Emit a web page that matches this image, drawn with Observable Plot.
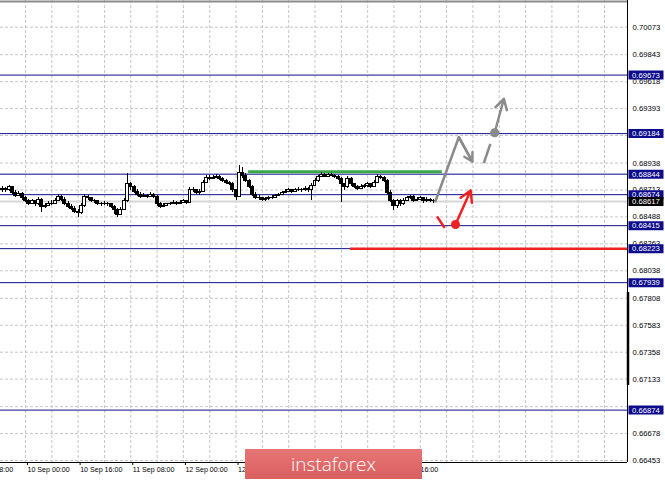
<!DOCTYPE html>
<html><head><meta charset="utf-8">
<script src="https://cdn.jsdelivr.net/npm/d3@7"></script>
<script src="https://cdn.jsdelivr.net/npm/@observablehq/plot@0.6"></script>
<style>
html,body{margin:0;padding:0;background:#fff;}
#wrap{position:relative;width:665px;height:480px;overflow:hidden;}
#logo{position:absolute;left:245px;top:449px;width:177px;height:30px;background:linear-gradient(#e77575,#d95f5f);color:#fff;font:300 19px "Open Sans",sans-serif;display:flex;align-items:center;justify-content:center;}
</style></head><body><div id="wrap"></div>
<script>
// ---- candle data (bar index: 0 = 10 Sep 00:00, H1 bars) ----
const barIndex = d3.range(-7, 125);
const opens = [0.68709,0.68725,0.68709,0.68734,0.68692,0.68667,0.68683,
0.68642,0.68625,0.68600,0.68617,0.68592,0.68633,0.68567,0.68583,
0.68592,0.68600,0.68625,0.68658,0.68633,0.68600,0.68575,0.68558,
0.68533,0.68517,0.68583,0.68658,0.68642,0.68625,0.68617,0.68600,
0.68592,0.68600,0.68592,0.68575,0.68542,0.68508,0.68550,0.68625,
0.68759,0.68734,0.68700,0.68675,0.68658,0.68667,0.68658,0.68675,
0.68658,0.68600,0.68575,0.68583,0.68592,0.68600,0.68608,0.68600,
0.68608,0.68617,0.68608,0.68717,0.68709,0.68692,0.68700,0.68775,
0.68817,0.68809,0.68817,0.68825,0.68809,0.68792,0.68775,0.68767,
0.68709,0.68658,0.68859,0.68834,0.68792,0.68742,0.68675,0.68650,
0.68642,0.68633,0.68637,0.68642,0.68650,0.68667,0.68675,0.68692,
0.68700,0.68709,0.68700,0.68709,0.68717,0.68709,0.68725,0.68717,
0.68750,0.68792,0.68825,0.68842,0.68825,0.68842,0.68834,0.68825,
0.68809,0.68759,0.68742,0.68809,0.68759,0.68742,0.68725,0.68742,
0.68750,0.68759,0.68742,0.68775,0.68825,0.68817,0.68792,0.68692,
0.68625,0.68583,0.68617,0.68592,0.68625,0.68642,0.68658,0.68625,
0.68633,0.68642,0.68617,0.68633,0.68625];
const highs = [0.68742,0.68734,0.68750,0.68742,0.68709,0.68700,0.68692,
0.68658,0.68633,0.68633,0.68625,0.68650,0.68642,0.68600,0.68617,
0.68625,0.68642,0.68675,0.68667,0.68650,0.68617,0.68592,0.68575,
0.68550,0.68600,0.68675,0.68667,0.68650,0.68633,0.68625,0.68608,
0.68617,0.68608,0.68600,0.68583,0.68558,0.68567,0.68642,0.68850,
0.68775,0.68750,0.68717,0.68692,0.68683,0.68675,0.68692,0.68683,
0.68667,0.68608,0.68600,0.68600,0.68608,0.68625,0.68617,0.68625,
0.68633,0.68625,0.68734,0.68734,0.68717,0.68717,0.68792,0.68834,
0.68834,0.68834,0.68842,0.68834,0.68817,0.68800,0.68784,0.68775,
0.68717,0.68917,0.68901,0.68850,0.68800,0.68750,0.68692,0.68667,
0.68650,0.68650,0.68658,0.68667,0.68675,0.68683,0.68700,0.68717,
0.68725,0.68717,0.68725,0.68734,0.68725,0.68742,0.68734,0.68767,
0.68809,0.68834,0.68859,0.68850,0.68850,0.68850,0.68842,0.68834,
0.68817,0.68767,0.68825,0.68817,0.68767,0.68750,0.68759,0.68759,
0.68775,0.68767,0.68792,0.68842,0.68834,0.68825,0.68800,0.68709,
0.68633,0.68633,0.68633,0.68642,0.68658,0.68667,0.68667,0.68650,
0.68658,0.68650,0.68650,0.68642,0.68633];
const lows = [0.68692,0.68692,0.68700,0.68675,0.68650,0.68658,0.68625,
0.68608,0.68583,0.68592,0.68575,0.68583,0.68525,0.68558,0.68575,
0.68583,0.68592,0.68617,0.68617,0.68583,0.68558,0.68542,0.68517,
0.68483,0.68508,0.68567,0.68625,0.68608,0.68600,0.68583,0.68575,
0.68583,0.68575,0.68558,0.68508,0.68483,0.68500,0.68542,0.68608,
0.68709,0.68683,0.68658,0.68642,0.68650,0.68642,0.68650,0.68642,
0.68575,0.68558,0.68567,0.68575,0.68583,0.68592,0.68583,0.68592,
0.68600,0.68592,0.68600,0.68692,0.68675,0.68667,0.68692,0.68767,
0.68792,0.68800,0.68809,0.68792,0.68775,0.68759,0.68750,0.68692,
0.68625,0.68650,0.68809,0.68775,0.68725,0.68658,0.68633,0.68625,
0.68617,0.68617,0.68625,0.68633,0.68642,0.68658,0.68667,0.68683,
0.68692,0.68683,0.68692,0.68700,0.68692,0.68700,0.68692,0.68625,
0.68742,0.68775,0.68817,0.68817,0.68817,0.68825,0.68809,0.68792,
0.68608,0.68709,0.68725,0.68742,0.68725,0.68709,0.68717,0.68725,
0.68734,0.68725,0.68734,0.68767,0.68800,0.68775,0.68675,0.68608,
0.68542,0.68558,0.68575,0.68583,0.68617,0.68633,0.68608,0.68617,
0.68625,0.68600,0.68608,0.68608,0.68600];
const closes = [0.68725,0.68709,0.68734,0.68692,0.68667,0.68683,0.68642,
0.68625,0.68600,0.68617,0.68592,0.68633,0.68567,0.68583,0.68592,
0.68600,0.68625,0.68658,0.68633,0.68600,0.68575,0.68558,0.68533,
0.68517,0.68583,0.68658,0.68642,0.68625,0.68617,0.68600,0.68592,
0.68600,0.68592,0.68575,0.68542,0.68508,0.68550,0.68625,0.68759,
0.68734,0.68700,0.68675,0.68658,0.68667,0.68658,0.68675,0.68658,
0.68600,0.68575,0.68583,0.68592,0.68600,0.68608,0.68600,0.68608,
0.68617,0.68608,0.68717,0.68709,0.68692,0.68700,0.68775,0.68817,
0.68809,0.68817,0.68825,0.68809,0.68792,0.68775,0.68767,0.68709,
0.68658,0.68859,0.68834,0.68792,0.68742,0.68675,0.68650,0.68642,
0.68633,0.68637,0.68642,0.68650,0.68667,0.68675,0.68692,0.68700,
0.68709,0.68700,0.68709,0.68717,0.68709,0.68725,0.68717,0.68750,
0.68792,0.68825,0.68842,0.68825,0.68842,0.68834,0.68825,0.68809,
0.68759,0.68742,0.68809,0.68759,0.68742,0.68725,0.68742,0.68750,
0.68759,0.68742,0.68775,0.68825,0.68817,0.68792,0.68692,0.68625,
0.68583,0.68617,0.68592,0.68625,0.68642,0.68658,0.68625,0.68633,
0.68642,0.68617,0.68633,0.68625,0.68617];

// ---- axes ----
const priceGrid = [0.70073,0.69843,0.69618,0.69393,0.69168,0.68938,0.68713,0.68488,0.68263,0.68038,0.67808,0.67583,0.67358,0.67133,0.66903,0.66678,0.66453];
const priceLabels = [0.70073,0.69843,0.69618,0.69393,0.68938,0.68713,0.68488,0.68263,0.68038,0.67808,0.67583,0.67358,0.67133,0.66678,0.66453];
const timeTickIndex = [-16, 0, 16, 32, 48, 64, 112];
const timeTickLabels = ["9 Sep 08:00","10 Sep 00:00","10 Sep 16:00","11 Sep 08:00","12 Sep 00:00","12 Sep 16:00","16 Sep 16:00"];
const gridIndex = d3.range(0, 183, 8);

// ---- levels and annotations ----
const levelPrices = [0.69673, 0.69184, 0.68674, 0.68415, 0.68223, 0.67939, 0.66874];
const levelLight = [0.68844];
const bidPrice = [0.68617];
const redLevel = [0.68223];
const redLevelStart = [98.8];
const greenLevel = [0.68866];
const greenRange = [67.8, 126.7];
const grayPathX = [124.6, 131.7, 135.8];
const grayPathY = [0.68619, 0.69154, 0.68951];
const grayDashX = [139.3, 141.3];
const grayDashY = [0.68937, 0.69099];
const grayDotXY = [142.6, 0.69191];
const grayArrowX = [142.6, 145.4];
const grayArrowY = [0.69191, 0.69475];
const redDashX = [125.1, 127.4];
const redDashY = [0.68492, 0.68397];
const redDotXY = [130.7, 0.68425];
const redArrowX = [130.7, 135.3];
const redArrowY = [0.68425, 0.68709];
const scrollBar = [0.67857, 0.67080];

const xDomain = [-7.599, 182.98];
const yDomain = [0.664364, 0.702961];

const candles = barIndex.map((i, k) => ({i, open: opens[k], high: highs[k], low: lows[k], close: closes[k]}));
const navy = "#10108c";
const boxSymbol = {draw(ctx) { ctx.rect(-17.5, -4.5, 35, 9); }};
const gridStyle = {stroke: "#c6c6c6", strokeOpacity: 1, strokeDasharray: "3,2"};

const chart = Plot.plot({
  width: 665, height: 480,
  marginTop: 0, marginRight: 38, marginBottom: 18, marginLeft: 0,
  style: {fontFamily: "'Liberation Sans', Arial, sans-serif", fontSize: "7.7px", background: "white", color: "black"},
  x: {type: "linear", domain: xDomain, axis: null},
  y: {type: "linear", domain: yDomain, axis: null},
  marks: [
    Plot.gridY(priceGrid, gridStyle),
    Plot.gridX(gridIndex, gridStyle),
    Plot.ruleY(bidPrice, {stroke: "#d6d6d6", strokeWidth: 2}),
    Plot.ruleY(levelPrices, {stroke: navy, strokeWidth: 1}),
    Plot.ruleY(levelLight, {stroke: "#5a5ab4", strokeWidth: 1.6}),
    Plot.ruleY(redLevel, {x1: redLevelStart[0], x2: xDomain[1], stroke: "#ee2222", strokeWidth: 2.5}),
    Plot.ruleY(greenLevel, {x1: greenRange[0], x2: greenRange[1], stroke: "#38a848", strokeWidth: 3}),
    Plot.ruleX(candles, {x: "i", y1: "low", y2: "high", stroke: "#000", strokeWidth: 1, shapeRendering: "crispEdges"}),
    Plot.rect(candles, {x1: d => d.i - 0.45, x2: d => d.i + 0.45, y1: "open", y2: "close",
      fill: d => d.close >= d.open ? "#fff" : "#000", stroke: "#000", strokeWidth: 1, shapeRendering: "crispEdges"}),
    // gray scenario
    Plot.line(grayPathX.map((x, k) => ({x, y: grayPathY[k]})), {x: "x", y: "y", stroke: "#8a8a8a", strokeWidth: 2.5}),
    Plot.arrow([{x1: grayPathX[1], y1: grayPathY[1], x2: grayPathX[2], y2: grayPathY[2]}], {x1: "x1", y1: "y1", x2: "x2", y2: "y2", stroke: "#8a8a8a", strokeWidth: 2.5, headLength: 9}),
    Plot.link([{x1: grayDashX[0], y1: grayDashY[0], x2: grayDashX[1], y2: grayDashY[1]}], {x1: "x1", y1: "y1", x2: "x2", y2: "y2", stroke: "#8a8a8a", strokeWidth: 2.5}),
    Plot.arrow([{x1: grayArrowX[0], y1: grayArrowY[0], x2: grayArrowX[1], y2: grayArrowY[1]}], {x1: "x1", y1: "y1", x2: "x2", y2: "y2", stroke: "#8a8a8a", strokeWidth: 2.5, headLength: 9}),
    Plot.dot([grayDotXY], {x: d => d[0], y: d => d[1], r: 4.5, fill: "#8a8a8a"}),
    // red scenario
    Plot.link([{x1: redDashX[0], y1: redDashY[0], x2: redDashX[1], y2: redDashY[1]}], {x1: "x1", y1: "y1", x2: "x2", y2: "y2", stroke: "#ee2222", strokeWidth: 2.5}),
    Plot.arrow([{x1: redArrowX[0], y1: redArrowY[0], x2: redArrowX[1], y2: redArrowY[1]}], {x1: "x1", y1: "y1", x2: "x2", y2: "y2", stroke: "#ee2222", strokeWidth: 2.5, headLength: 9}),
    Plot.dot([redDotXY], {x: d => d[0], y: d => d[1], r: 4.5, fill: "#ee2222"}),
    // frame
    Plot.ruleY([yDomain[1]], {stroke: "#8c8c8c", strokeWidth: 2, dy: 1}),
    Plot.ruleY([yDomain[0]], {stroke: "#000", strokeWidth: 1}),
    Plot.ruleX([xDomain[1]], {stroke: "#000", strokeWidth: 1}),
    Plot.ruleX([xDomain[1]], {y1: scrollBar[0], y2: scrollBar[1], stroke: "#000", strokeWidth: 2.5, dx: 0.5}),
    Plot.axisX(timeTickIndex, {anchor: "bottom", tickSize: 3, tickPadding: 1, textAnchor: "start", dx: 2,
      tickFormat: d => timeTickLabels[timeTickIndex.indexOf(d)], fontSize: 7.1, label: null}),
    Plot.axisY(priceLabels, {anchor: "right", tickSize: 0, tickPadding: 5, tickFormat: d => d.toFixed(5), fontSize: 7.7, label: null}),
    // price boxes
    Plot.dot(levelPrices.concat(levelLight), {y: d => d, frameAnchor: "right", dx: 18.5, symbol: boxSymbol, fill: "#0c0c8c", stroke: "none"}),
    Plot.dot(bidPrice, {y: d => d, frameAnchor: "right", dx: 18.5, symbol: boxSymbol, fill: "#000", stroke: "none"}),
    Plot.text(levelPrices.concat(levelLight, bidPrice), {y: d => d, text: d => d.toFixed(5), frameAnchor: "right", textAnchor: "start", dx: 4.5, fill: "#fff", fontSize: 7.7})
  ]
});
const wrap = document.getElementById("wrap");
wrap.appendChild(chart);
const logo = document.createElement("div");
logo.id = "logo";
logo.textContent = "instaforex";
wrap.appendChild(logo);
</script></body></html>
